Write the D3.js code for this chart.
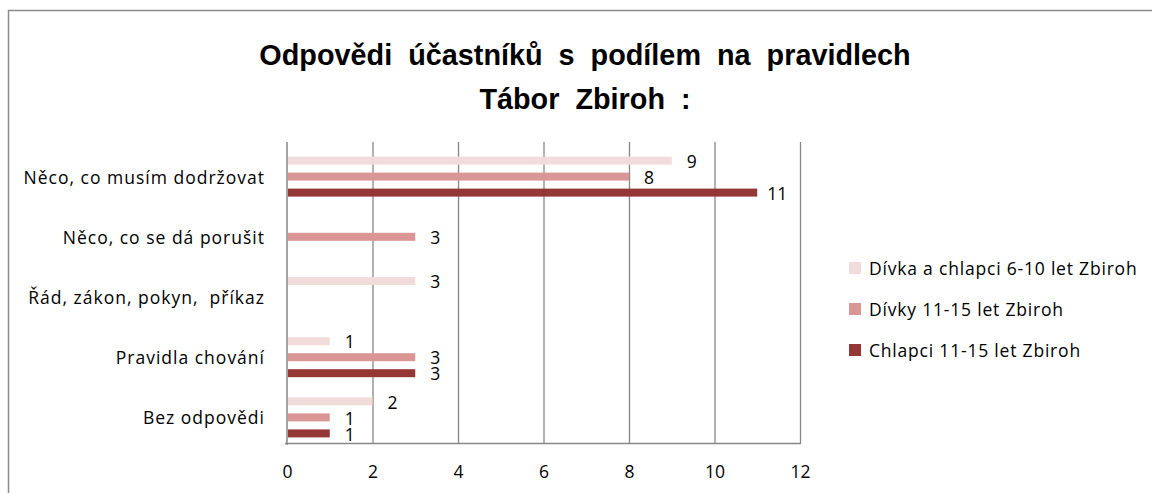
<!DOCTYPE html>
<html><head><meta charset="utf-8">
<script src="https://cdn.jsdelivr.net/npm/d3@7"></script>
<style>
body{margin:0;background:#fff;}
svg{display:block;font-family:"Open Sans",sans-serif;}
</style></head>
<body><svg id="c" width="1152" height="493"></svg>
<script>
const categories = ["Něco, co musím dodržovat","Něco, co se dá porušit","Řád, zákon, pokyn,  příkaz","Pravidla chování","Bez odpovědi"];
const seriesNames = ["Dívka a chlapci 6-10 let Zbiroh","Dívky 11-15 let Zbiroh","Chlapci 11-15 let Zbiroh"];
const seriesColors = ["#F2DCDB","#D99694","#953735"];
const s1 = [9,0,3,1,2];
const s2 = [8,3,0,3,1];
const s3 = [11,0,0,3,1];
const seriesValues = [s1,s2,s3];
const xTicks = [0,2,4,6,8,10,12];
const titleLines = ["Odpovědi  účastníků  s  podílem  na  pravidlech","Tábor  Zbiroh  :"];

const svg = d3.select("#c");
svg.append("rect").attr("x",8.5).attr("y",10.5).attr("width",1160).attr("height",500)
  .attr("fill","#fff").attr("stroke","#8c8c8c").attr("stroke-width",1.5);

const L=287, R=800, T=142, B=443;
const x = d3.scaleLinear().domain([0,12]).range([L,R]);
const y = d3.scaleBand().domain(categories).range([T+4.5,B+4.5]);
const inner = d3.scaleBand().domain([0,1,2]).range([-24,24]);
const FS = 17.5, LS = 1;

// gridlines
svg.append("g").selectAll("line").data(xTicks.slice(1)).join("line")
  .attr("x1",d=>x(d)+0.5).attr("x2",d=>x(d)+0.5).attr("y1",T).attr("y2",B)
  .attr("stroke","#878787").attr("stroke-width",1.3);
// axes
svg.append("line").attr("x1",L).attr("x2",L).attr("y1",T).attr("y2",B+2).attr("stroke","#878787").attr("stroke-width",1.5);
svg.append("line").attr("x1",L-2).attr("x2",R+1).attr("y1",B+0.5).attr("y2",B+0.5).attr("stroke","#878787").attr("stroke-width",1.5);

const xAxis = d3.axisBottom(x).tickValues(xTicks).tickSize(0).tickPadding(23);
const gx = svg.append("g").attr("transform",`translate(0,${B})`).call(xAxis);
gx.select(".domain").remove();
gx.selectAll("text").attr("font-size",FS).attr("fill","#000").attr("font-family","Open Sans");

const yAxis = d3.axisLeft(y).tickSize(0).tickPadding(22);
const gy = svg.append("g").attr("transform",`translate(${L},0)`).call(yAxis);
gy.select(".domain").remove();
gy.selectAll("text").attr("font-size",FS).attr("fill","#000").attr("font-family","Open Sans").attr("dy","0.4em")
  .attr("letter-spacing",LS).style("white-space","pre");

// bars
seriesValues.forEach((vals,si)=>{
  const g = svg.append("g");
  const data = vals.map((v,i)=>({v,c:categories[i]})).filter(d=>d.v>0);
  g.selectAll("rect").data(data).join("rect")
    .attr("x",x(0)+1).attr("width",d=>x(d.v)-x(0)-1)
    .attr("y",d=>y(d.c)+y.bandwidth()/2+inner(si)+inner.bandwidth()/2-4)
    .attr("height",8).attr("fill",seriesColors[si]);
  g.selectAll("text").data(data).join("text")
    .attr("x",d=>x(d.v)+20).attr("y",d=>y(d.c)+y.bandwidth()/2+inner(si)+inner.bandwidth()/2+2.5)
    .attr("text-anchor","middle").attr("dominant-baseline","middle")
    .attr("font-size",FS).text(d=>d.v);
});

// title
svg.append("g").selectAll("text").data(titleLines).join("text")
  .attr("x",585).attr("y",(d,i)=>65+i*44).attr("text-anchor","middle")
  .attr("font-family","Liberation Sans, Arial").attr("font-weight","bold").attr("font-size",28.8)
  .style("white-space","pre").text(d=>d);

// legend
const lg = svg.append("g").selectAll("g").data(seriesNames).join("g")
  .attr("transform",(d,i)=>`translate(849,${268+i*41})`);
lg.append("rect").attr("x",0).attr("y",-6).attr("width",12).attr("height",12).attr("fill",(d,i)=>seriesColors[i]);
lg.append("text").attr("x",20).attr("y",2).attr("dominant-baseline","middle").attr("font-size",FS)
  .attr("letter-spacing",0.8).text(d=>d);
</script></body></html>
